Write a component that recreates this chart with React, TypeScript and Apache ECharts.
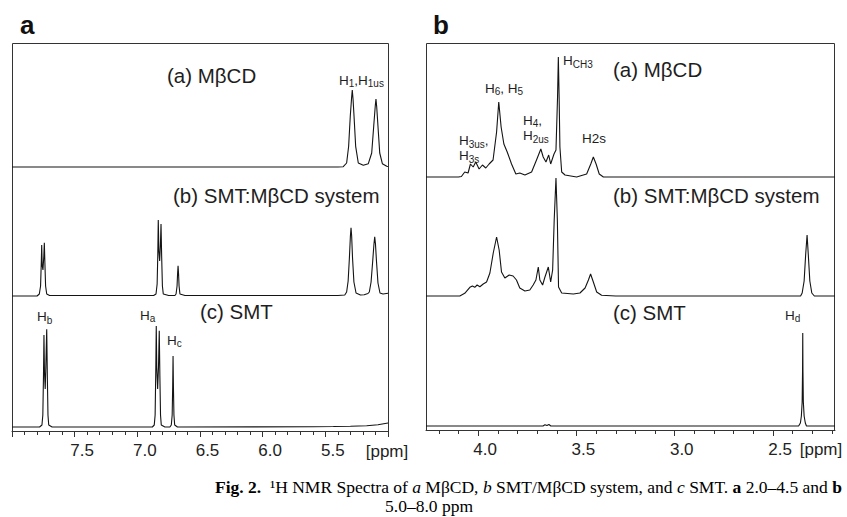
import React, { useEffect, useRef } from 'react';
import * as echarts from 'echarts';

// ---------- DATA (ppm, intensity a.u.) ----------
// Panel a: 5.0–8.0 ppm
const specA_MbCD: [number, number][] = [
  [8.0, 0], [5.4, 0], [5.357, 0.3], [5.33, 4], [5.314, 20.7], [5.301, 50.7], [5.29, 70], [5.285, 77],
  [5.279, 68], [5.271, 50.7], [5.258, 20.7], [5.237, 4], [5.197, 1.7], [5.157, 3.3], [5.13, 14],
  [5.114, 40.7], [5.101, 62], [5.096, 68], [5.09, 60], [5.08, 40.7], [5.066, 14], [5.045, 3.3],
  [5.01, 0.7], [5.0, 0.5],
];
const specA_System: [number, number][] = [
  [8.0, 0], [7.8, 0], [7.782, 2], [7.772, 10], [7.766, 35], [7.763, 51], [7.759, 30], [7.753, 26],
  [7.746, 40], [7.742, 53.3], [7.738, 35], [7.732, 10], [7.723, 2], [7.7, 0.5],
  [6.87, 0.5], [6.851, 2], [6.842, 12], [6.837, 40], [6.833, 76], [6.828, 45], [6.822, 35],
  [6.816, 50], [6.811, 72], [6.806, 40], [6.8, 10], [6.793, 2], [6.75, 0.5],
  [6.7, 0.5], [6.691, 2], [6.683, 10], [6.679, 22], [6.675, 30.3], [6.671, 22], [6.667, 10],
  [6.66, 2], [6.62, 0.5],
  [5.4, 0.5], [5.345, 1], [5.33, 4], [5.318, 15], [5.308, 38], [5.3, 60], [5.295, 68.3], [5.29, 60],
  [5.283, 38], [5.272, 14], [5.255, 3], [5.22, 1], [5.19, 1.2], [5.16, 2.5], [5.149, 4], [5.135, 14],
  [5.122, 35], [5.112, 52], [5.106, 59.3], [5.1, 52], [5.092, 35], [5.08, 13], [5.064, 3],
  [5.04, 2], [5.0, 2.7],
];
const specA_SMT: [number, number][] = [
  [8.0, 0], [7.78, 0], [7.761, 2], [7.754, 12], [7.749, 50], [7.745, 92], [7.741, 55], [7.735, 38],
  [7.73, 60], [7.723, 97.7], [7.718, 50], [7.713, 12], [7.707, 2], [7.68, 0],
  [6.88, 0], [6.865, 2], [6.858, 12], [6.853, 55], [6.849, 101], [6.845, 60], [6.838, 38],
  [6.831, 60], [6.825, 96.3], [6.82, 50], [6.815, 12], [6.809, 2], [6.78, 0],
  [6.74, 0], [6.729, 2], [6.722, 12], [6.718, 40], [6.715, 71], [6.712, 40], [6.708, 12],
  [6.702, 2], [6.68, 0],
  [5.6, 0.3], [5.436, 0.5], [5.3, 0.8], [5.17, 1.3], [5.08, 2.3], [5.0, 4],
];

// Panel b: 2.2–4.27 ppm
const specB_MbCD: [number, number][] = [
  [4.265, 0], [4.1, 0], [4.085, 0.5], [4.068, 5], [4.051, 4], [4.039, 13], [4.025, 10], [4.012, 15],
  [3.995, 8], [3.978, 12], [3.961, 9], [3.944, 13], [3.924, 17], [3.906, 45], [3.895, 75],
  [3.883, 50], [3.869, 33], [3.852, 25], [3.83, 13], [3.808, 3], [3.788, 4], [3.762, 2], [3.728, 5],
  [3.703, 17], [3.681, 28], [3.669, 20], [3.655, 15], [3.641, 22], [3.631, 13], [3.614, 23],
  [3.604, 27], [3.596, 80], [3.592, 120], [3.588, 80], [3.584, 30], [3.575, 5], [3.558, 2],
  [3.499, 0], [3.448, 3], [3.427, 13], [3.414, 20], [3.4, 13], [3.384, 3], [3.363, 0], [2.185, 0],
];
const specB_System: [number, number][] = [
  [4.265, 0], [4.093, 0], [4.068, 2.7], [4.042, 8.7], [4.029, 10], [4.017, 8.7], [4.005, 11],
  [3.991, 9.3], [3.974, 12], [3.957, 14], [3.94, 23], [3.923, 43], [3.906, 59], [3.893, 46],
  [3.881, 24], [3.864, 18], [3.842, 21], [3.822, 20], [3.805, 16], [3.788, 8], [3.762, 5],
  [3.737, 6], [3.72, 11], [3.706, 16], [3.694, 29], [3.686, 16], [3.672, 11], [3.66, 19],
  [3.643, 29], [3.631, 14], [3.621, 26], [3.613, 76], [3.604, 118], [3.597, 76], [3.591, 9],
  [3.575, 3], [3.516, 2], [3.482, 3], [3.456, 8], [3.439, 16], [3.428, 22], [3.414, 14],
  [3.397, 4], [3.372, 0.7], [3.3, 0], [2.36, 0], [2.352, 3], [2.342, 15], [2.334, 42], [2.327, 61],
  [2.321, 42], [2.313, 15], [2.303, 3], [2.29, 0], [2.185, 0],
];
const specB_SMT: [number, number][] = [
  [4.265, 0], [3.67, 0], [3.66, 1.2], [3.65, 0.5], [3.64, 1.5], [3.63, 0], [2.37, 0], [2.361, 3],
  [2.356, 10], [2.352, 24], [2.35, 55], [2.349, 93], [2.348, 55], [2.346, 24], [2.342, 10],
  [2.336, 3], [2.33, 0], [2.185, 0],
];

// Axis ranges and ticks
const rangeA = [5.0, 8.0];
const rangeB = [2.185, 4.265];
const majorTicksA = [5.0, 5.5, 6.0, 6.5, 7.0, 7.5, 8.0];
const labelTicksA = [5.5, 6.0, 6.5, 7.0, 7.5];
const minorTicksA = [
  5.0, 5.1, 5.2, 5.3, 5.4, 5.5, 5.6, 5.7, 5.8, 5.9, 6.0, 6.1, 6.2, 6.3, 6.4, 6.5, 6.6, 6.7, 6.8, 6.9,
  7.0, 7.1, 7.2, 7.3, 7.4, 7.5, 7.6, 7.7, 7.8, 7.9, 8.0,
];
const majorTicksB = [2.5, 3.0, 3.5, 4.0];
const labelTicksB = [2.5, 3.0, 3.5, 4.0];
const minorTicksB = [
  2.2, 2.3, 2.4, 2.5, 2.6, 2.7, 2.8, 2.9, 3.0, 3.1, 3.2, 3.3, 3.4, 3.5, 3.6, 3.7, 3.8, 3.9, 4.0, 4.1, 4.2,
];

// Texts
const spectrumLabels = ['(a) MβCD', '(b) SMT:MβCD system', '(c) SMT'];
const captionLine1 =
  '{b|Fig. 2.}  {r|¹H NMR Spectra of }{i|a}{r| MβCD, }{i|b}{r| SMT/MβCD system, and }{i|c}{r| SMT. }{b|a}{r| 2.0–4.5 and }{b|b}';
const captionLine2 = '5.0–8.0 ppm';

const SANS = '"Liberation Sans", Arial, Helvetica, sans-serif';
const SERIF = '"Liberation Serif", "Times New Roman", Times, serif';
const INK = '#141414';
const TXT = '#1e1e1e';

export default function App() {
  const ref = useRef<HTMLDivElement>(null);

  useEffect(() => {
    if (!ref.current) return;
    const chart = echarts.init(ref.current, undefined, { renderer: 'svg' });

    const grids = [
      { left: 12, width: 376, top: 67, height: 100 },
      { left: 12, width: 376, top: 196, height: 100 },
      { left: 12, width: 376, top: 327, height: 104 },
      { left: 426, width: 409, top: 77, height: 100 },
      { left: 426, width: 409, top: 196, height: 100 },
      { left: 426, width: 409, top: 326, height: 104 },
    ];

    const hiddenX = (gi: number, r: number[]) => ({
      type: 'value', gridIndex: gi, min: r[0], max: r[1], inverse: true, show: false,
    });
    const shownX = (gi: number, r: number[], major: number[], labels: number[], shift: number) => ({
      type: 'value', gridIndex: gi, min: r[0], max: r[1], inverse: true, position: 'bottom', offset: 0,
      axisLine: { show: true, onZero: false, lineStyle: { color: '#333', width: 1 } },
      axisTick: { show: true, customValues: major, length: 6, lineStyle: { color: '#333', width: 1 } },
      axisLabel: {
        show: true, customValues: labels, margin: 11, fontSize: 17, fontFamily: SANS, color: '#222',
        padding: [0, 0, 0, shift], formatter: (v: number) => v.toFixed(1),
      },
      splitLine: { show: false },
    });
    const minorX = (gi: number, r: number[], minor: number[]) => ({
      type: 'value', gridIndex: gi, min: r[0], max: r[1], inverse: true, position: 'bottom', offset: 0,
      axisLine: { show: false, onZero: false },
      axisTick: { show: true, customValues: minor, length: 4, lineStyle: { color: '#333', width: 1 } },
      axisLabel: { show: false },
      splitLine: { show: false },
    });

    const xAxis = [
      hiddenX(0, rangeA), hiddenX(1, rangeA), shownX(2, rangeA, majorTicksA, labelTicksA, 15),
      hiddenX(3, rangeB), hiddenX(4, rangeB), shownX(5, rangeB, majorTicksB, labelTicksB, 14),
      minorX(2, rangeA, minorTicksA), minorX(5, rangeB, minorTicksB),
    ];
    const yAxis = grids.map((_, i) => ({
      type: 'value', gridIndex: i, min: i === 2 || i === 5 ? -4 : 0, max: 100, show: false,
    }));

    const spectra = [specA_MbCD, specA_System, specA_SMT, specB_MbCD, specB_System, specB_SMT];
    const series = spectra.map((d, i) => ({
      type: 'line', xAxisIndex: i, yAxisIndex: i, data: d, showSymbol: false, symbol: 'none',
      clip: false, smooth: false, silent: true,
      lineStyle: { color: INK, width: 1.1 },
    }));

    const txt = (text: string, x: number, y: number, fontSize: number, extra: any = {}) => ({
      type: 'text', silent: true,
      style: {
        text, x, y, fontSize, fontFamily: SANS, fill: TXT, textFill: TXT,
        align: 'left', textAlign: 'left', verticalAlign: 'middle', textVerticalAlign: 'middle',
        ...extra,
      },
    });
    const peakRich = {
      h: { fontSize: 13.5, fontFamily: SANS, fill: TXT, textFill: TXT, color: TXT },
      s: { fontSize: 10, fontFamily: SANS, fill: TXT, textFill: TXT, color: TXT, padding: [7, 0, 0, 0] },
    };
    const peak = (text: string, x: number, y: number) => txt(text, x, y, 13.5, { rich: peakRich });

    const graphic = [
      // frames
      { type: 'rect', silent: true, shape: { x: 12.5, y: 43.5, width: 376, height: 388 },
        style: { fill: 'none', stroke: '#333', lineWidth: 1 } },
      { type: 'rect', silent: true, shape: { x: 426.5, y: 43.5, width: 408, height: 387 },
        style: { fill: 'none', stroke: '#333', lineWidth: 1 } },
      // panel letters
      txt('a', 20, 24.5, 26, { fontWeight: 'bold', fill: '#111', textFill: '#111' }),
      txt('b', 433, 24.5, 26, { fontWeight: 'bold', fill: '#111', textFill: '#111' }),
      // spectrum labels, panel a
      txt(spectrumLabels[0], 167, 75, 20.5),
      txt(spectrumLabels[1], 173, 195, 20.5),
      txt(spectrumLabels[2], 200, 311.5, 20.5),
      // spectrum labels, panel b
      txt(spectrumLabels[0], 613, 69, 20.5),
      txt(spectrumLabels[1], 613, 195.5, 20.5),
      txt(spectrumLabels[2], 613, 312, 20.5),
      // peak labels, panel a
      peak('{h|H}{s|1}{h|,H}{s|1us}', 339, 80),
      peak('{h|H}{s|b}', 37, 316.5),
      peak('{h|H}{s|a}', 140, 315),
      peak('{h|H}{s|c}', 167, 340),
      // peak labels, panel b
      peak('{h|H}{s|CH3}', 563, 60.5),
      peak('{h|H}{s|6}{h|, H}{s|5}', 485, 88),
      peak('{h|H}{s|4}{h|,}', 523, 120),
      peak('{h|H}{s|2us}', 523, 135.5),
      peak('{h|H}{s|3us}{h|,}', 459, 140.5),
      peak('{h|H}{s|3s}', 459, 155.5),
      txt('H2s', 582, 138.5, 13.5),
      peak('{h|H}{s|d}', 785, 315),
      // unit labels
      txt('[ppm]', 387, 451, 17, { align: 'center', textAlign: 'center' }),
      txt('[ppm]', 821, 449.5, 17, { align: 'center', textAlign: 'center' }),
      // caption
      txt(captionLine1, 215, 487, 17.5, {
        fontFamily: SERIF, fill: '#000', textFill: '#000',
        rich: {
          b: { fontFamily: SERIF, fontSize: 17.5, fontWeight: 'bold', fill: '#000', textFill: '#000' },
          r: { fontFamily: SERIF, fontSize: 17.5, fill: '#000', textFill: '#000' },
          i: { fontFamily: SERIF, fontSize: 17.5, fontStyle: 'italic', fill: '#000', textFill: '#000' },
        },
      }),
      txt(captionLine2, 429, 506, 17.5, {
        fontFamily: SERIF, fill: '#000', textFill: '#000', align: 'center', textAlign: 'center',
      }),
    ];

    chart.setOption({
      animation: false,
      backgroundColor: '#ffffff',
      grid: grids.map((g) => ({ ...g, containLabel: false })),
      xAxis,
      yAxis,
      series,
      graphic,
    } as any);

    return () => chart.dispose();
  }, []);

  return (
    <div
      ref={ref}
      style={{ position: 'absolute', left: 0, top: 0, width: 847, height: 517, background: '#fff' }}
    />
  );
}
